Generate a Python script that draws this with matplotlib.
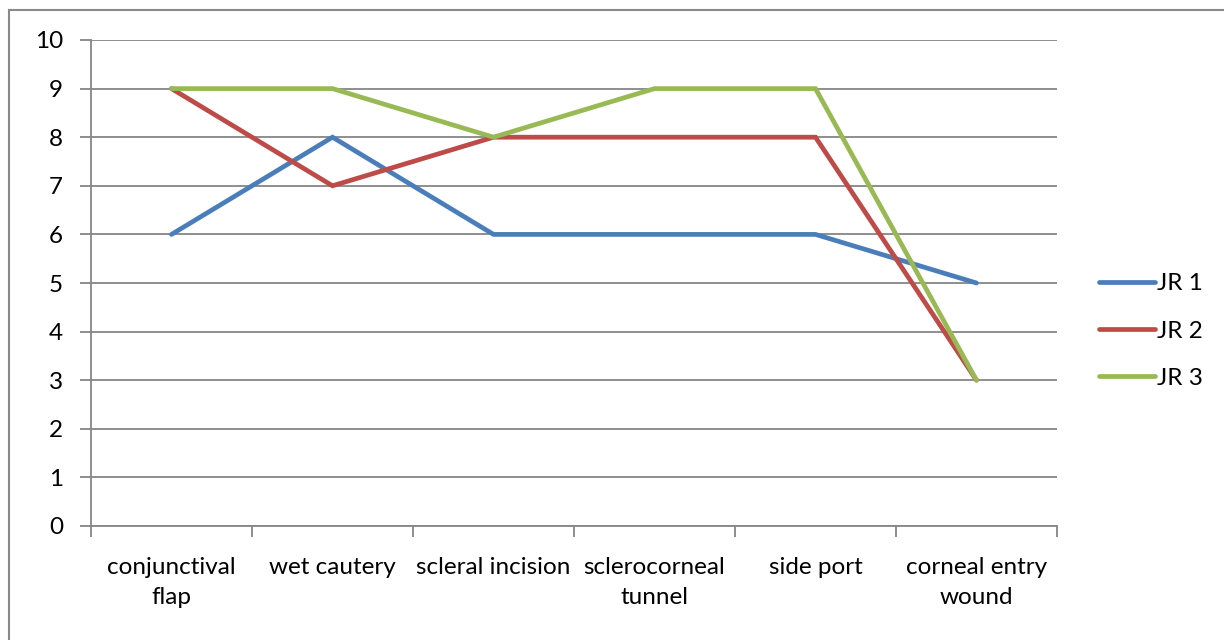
import matplotlib.pyplot as plt
from matplotlib.patches import Rectangle

plt.rc('font', family=['Lato', 'DejaVu Sans'], size=17.5)

steps = ['conjunctival\nflap', 'wet cautery', 'scleral incision',
         'sclerocorneal\ntunnel', 'side port', 'corneal entry\nwound']
jr1 = [6, 8, 6, 6, 6, 5]
jr2 = [9, 7, 8, 8, 8, 3]
jr3 = [9, 9, 8, 9, 9, 3]
names = ['JR 1', 'JR 2', 'JR 3']
colors = ['#4A7EBB', '#BE4B48', '#98B954']
grid_gray = '#868686'

fig = plt.figure(figsize=(12.24, 6.4), dpi=100)
# outer chart border (only left and top show in the crop)
fig.patches.append(Rectangle((9 / 1224, -0.1), 1.2, 1 - 10 / 640 + 0.1,
                             transform=fig.transFigure, fill=False,
                             edgecolor='#898989', linewidth=1.5))
ax = fig.add_axes([91 / 1224, 1 - 526 / 640, 966 / 1224, 486 / 640])

x = list(range(len(steps)))
for ys, name, c in zip([jr1, jr2, jr3], names, colors):
    ax.plot(x, ys, color=c, linewidth=3.4, label=name, solid_capstyle='round',
            solid_joinstyle='miter')

ax.set_xlim(-0.5, len(steps) - 0.5)
ax.set_ylim(0, 10)
ax.set_yticks(range(0, 11))
ax.yaxis.grid(True, color=grid_gray, linewidth=1.3)
ax.set_axisbelow(True)

ax.set_xticks([i - 0.5 for i in range(len(steps) + 1)])
ax.set_xticklabels([])
ax.set_xticks(x, minor=True)
ax.set_xticklabels(steps, minor=True, linespacing=1.55)
ax.tick_params(axis='x', which='major', length=8, width=1.3, color=grid_gray)
ax.tick_params(axis='x', which='minor', length=0, pad=22)
ax.tick_params(axis='y', length=8, width=1.3, color=grid_gray, pad=12)

for s in ['top', 'right']:
    ax.spines[s].set_visible(False)
for s in ['left', 'bottom']:
    ax.spines[s].set_color(grid_gray)
    ax.spines[s].set_linewidth(1.3)

ax.legend(loc='center left', bbox_to_anchor=(1087 / 1224, 1 - 331 / 640),
          bbox_transform=fig.transFigure, frameon=False, handlelength=2.3,
          handletextpad=0.08, labelspacing=1.08, borderpad=0)

fig.savefig('out.png', dpi=100)
